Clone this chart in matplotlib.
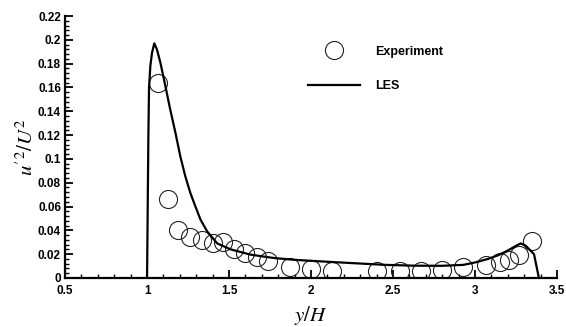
import matplotlib
matplotlib.use("Agg")
import matplotlib.pyplot as plt
from matplotlib.ticker import MultipleLocator

plt.rcParams['font.family'] = ['Liberation Sans', 'DejaVu Sans']
plt.rcParams['mathtext.fontset'] = 'stix'

exp_x = [1.068, 1.128, 1.187, 1.262, 1.333, 1.40, 1.465, 1.53, 1.60, 1.67, 1.74,
         1.87, 2.00, 2.13, 2.40, 2.54, 2.67, 2.80, 2.93, 3.07, 3.15, 3.21, 3.27, 3.35]
exp_y = [0.164, 0.066, 0.040, 0.034, 0.032, 0.029, 0.030, 0.024, 0.021, 0.018, 0.014,
         0.0095, 0.0078, 0.0055, 0.0055, 0.0055, 0.0058, 0.0070, 0.0090, 0.011, 0.013, 0.015, 0.019, 0.031]

les_x = [1.0, 1.004, 1.008, 1.012, 1.02, 1.03, 1.044, 1.06, 1.081, 1.112, 1.142, 1.173, 1.203,
         1.234, 1.265, 1.295, 1.326, 1.367, 1.428, 1.51, 1.63, 1.77, 1.90, 2.05, 2.22, 2.45, 2.63,
         2.80, 2.93, 3.00, 3.08, 3.14, 3.20, 3.25, 3.28, 3.31, 3.36, 3.375, 3.39]
les_y = [0.0, 0.06, 0.12, 0.160, 0.178, 0.189, 0.197, 0.192, 0.181, 0.161, 0.141, 0.122, 0.102,
         0.085, 0.071, 0.060, 0.049, 0.039, 0.029, 0.024, 0.0196, 0.0168, 0.0152, 0.0140, 0.0127, 0.011, 0.0103,
         0.0102, 0.011, 0.013, 0.016, 0.019, 0.023, 0.027, 0.029, 0.027, 0.020, 0.010, 0.0]

fig = plt.figure(figsize=(5.66, 3.27), dpi=100)
ax = fig.add_axes([0.115, 0.150, 0.869, 0.801])

ax.plot(exp_x, exp_y, linestyle='none', marker='o', markersize=13,
        markerfacecolor='none', markeredgecolor='#222222', markeredgewidth=0.8,
        label='Experiment')
ax.plot(les_x, les_y, color='black', linewidth=1.6, label='LES')

ax.set_xlim(0.5, 3.5)
ax.set_ylim(0, 0.22)
ax.xaxis.set_minor_locator(MultipleLocator(0.1))
ax.yaxis.set_minor_locator(MultipleLocator(0.004))
ax.set_xticks([0.5, 1, 1.5, 2, 2.5, 3, 3.5])
ax.set_xticklabels(['0.5', '1', '1.5', '2', '2.5', '3', '3.5'])
ax.set_yticks([0, 0.02, 0.04, 0.06, 0.08, 0.1, 0.12, 0.14, 0.16, 0.18, 0.2, 0.22])
ax.set_yticklabels(['0', '0.02', '0.04', '0.06', '0.08', '0.1', '0.12', '0.14', '0.16', '0.18', '0.2', '0.22'])

for s in ['top', 'right']:
    ax.spines[s].set_visible(False)
for s in ['left', 'bottom']:
    ax.spines[s].set_linewidth(1.6)

ax.tick_params(which='major', direction='in', length=6, width=1.3, labelsize=8.5)
ax.tick_params(axis='x', which='major', pad=5)
ax.tick_params(axis='y', which='major', pad=3)
ax.tick_params(which='minor', direction='in', length=3, width=1.0)
for lab in ax.get_xticklabels() + ax.get_yticklabels():
    lab.set_fontweight('bold')

ax.set_xlabel(r"$y/H$", fontsize=15, labelpad=5)
ax.set_ylabel(r"$u'^2/U^2$", fontsize=15, labelpad=1)

leg = ax.legend(loc='upper left', bbox_to_anchor=(0.47, 0.93), frameon=False,
                handlelength=4.2, handletextpad=1.2, labelspacing=1.8,
                prop={'weight': 'bold', 'size': 9})

fig.savefig('out.png', dpi=100)
